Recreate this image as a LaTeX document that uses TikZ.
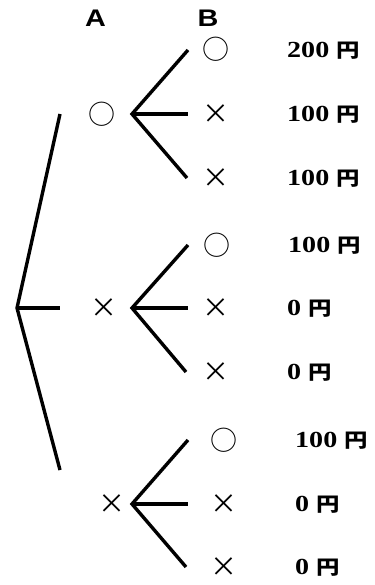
\documentclass[tikz,border=0pt]{standalone}
\usepackage{fontspec}
\newfontfamily\jpfont{Noto Sans CJK JP}
\newfontfamily\yenfont[FakeStretch=1.2]{Noto Sans CJK JP Bold}
\newfontfamily\numfont[FakeStretch=1.22]{Liberation Serif}
\newfontfamily\abfont[FakeStretch=1.2]{Liberation Sans}
\tikzset{
  branch/.style={line width=3.4pt},
  sym/.style={font=\jpfont\fontsize{27}{27}\selectfont, inner sep=0pt},
  amt/.style={anchor=base west, inner sep=0pt, font=\numfont\bfseries\fontsize{23}{23}\selectfont},
  hd/.style={anchor=base, inner sep=0pt, font=\abfont\bfseries\fontsize{24}{24}\selectfont},
}
\newcommand{\yen}{{\yenfont\fontsize{19.5}{19.5}\selectfont 円}}
\begin{document}
\begin{tikzpicture}[x=1pt,y=-1pt]
\useasboundingbox (0,0) rectangle (374,585);
% headers
\node[hd] (hA) at (95.5,27) {A};
\node[hd] (hB) at (208,27) {B};
% root
\coordinate (r) at (17,308);
\coordinate (a1) at (60,114);
\coordinate (a2) at (60,308);
\coordinate (a3) at (60,470);
\draw[branch] (a1) -- (r) -- (a3);
\draw[branch] (r) -- (a2);
% first level symbols
\node[sym] (s1) at (102,114) {○};
\node[sym] (s2) at (104,308) {×};
\node[sym] (s3) at (112,504) {×};
% forks
\coordinate (f1) at (132,114);
\coordinate (f2) at (132,308);
\coordinate (f3) at (132,504);
\coordinate (e11) at (188,50);
\coordinate (e12) at (188,114);
\coordinate (e13) at (187,178);
\coordinate (e21) at (188,245);
\coordinate (e22) at (188,308);
\coordinate (e23) at (186,372);
\coordinate (e31) at (188,440);
\coordinate (e32) at (188,504);
\coordinate (e33) at (186,567);
\draw[branch] (e11) -- (f1) -- (e13); \draw[branch] (f1) -- (e12);
\draw[branch] (e21) -- (f2) -- (e23); \draw[branch] (f2) -- (e22);
\draw[branch] (e31) -- (f3) -- (e33); \draw[branch] (f3) -- (e32);
% second level symbols
\node[sym] (b11) at (216,49) {○};
\node[sym] (b12) at (216,114) {×};
\node[sym] (b13) at (216,178) {×};
\node[sym] (b21) at (217,245) {○};
\node[sym] (b22) at (216,308) {×};
\node[sym] (b23) at (216,372) {×};
\node[sym] (b31) at (224,440) {○};
\node[sym] (b32) at (224,504) {×};
\node[sym] (b33) at (224,567) {×};
% amounts
\node[amt] (m11) at (287,57.5) {200 \yen};
\node[amt] (m12) at (287,121.5) {100 \yen};
\node[amt] (m13) at (287,185.5) {100 \yen};
\node[amt] (m21) at (288,252.5) {100 \yen};
\node[amt] (m22) at (287,315.5) {0 \yen};
\node[amt] (m23) at (287,379.5) {0 \yen};
\node[amt] (m31) at (295,447.5) {100 \yen};
\node[amt] (m32) at (295,511.5) {0 \yen};
\node[amt] (m33) at (295,574.5) {0 \yen};
\end{tikzpicture}
\end{document}
